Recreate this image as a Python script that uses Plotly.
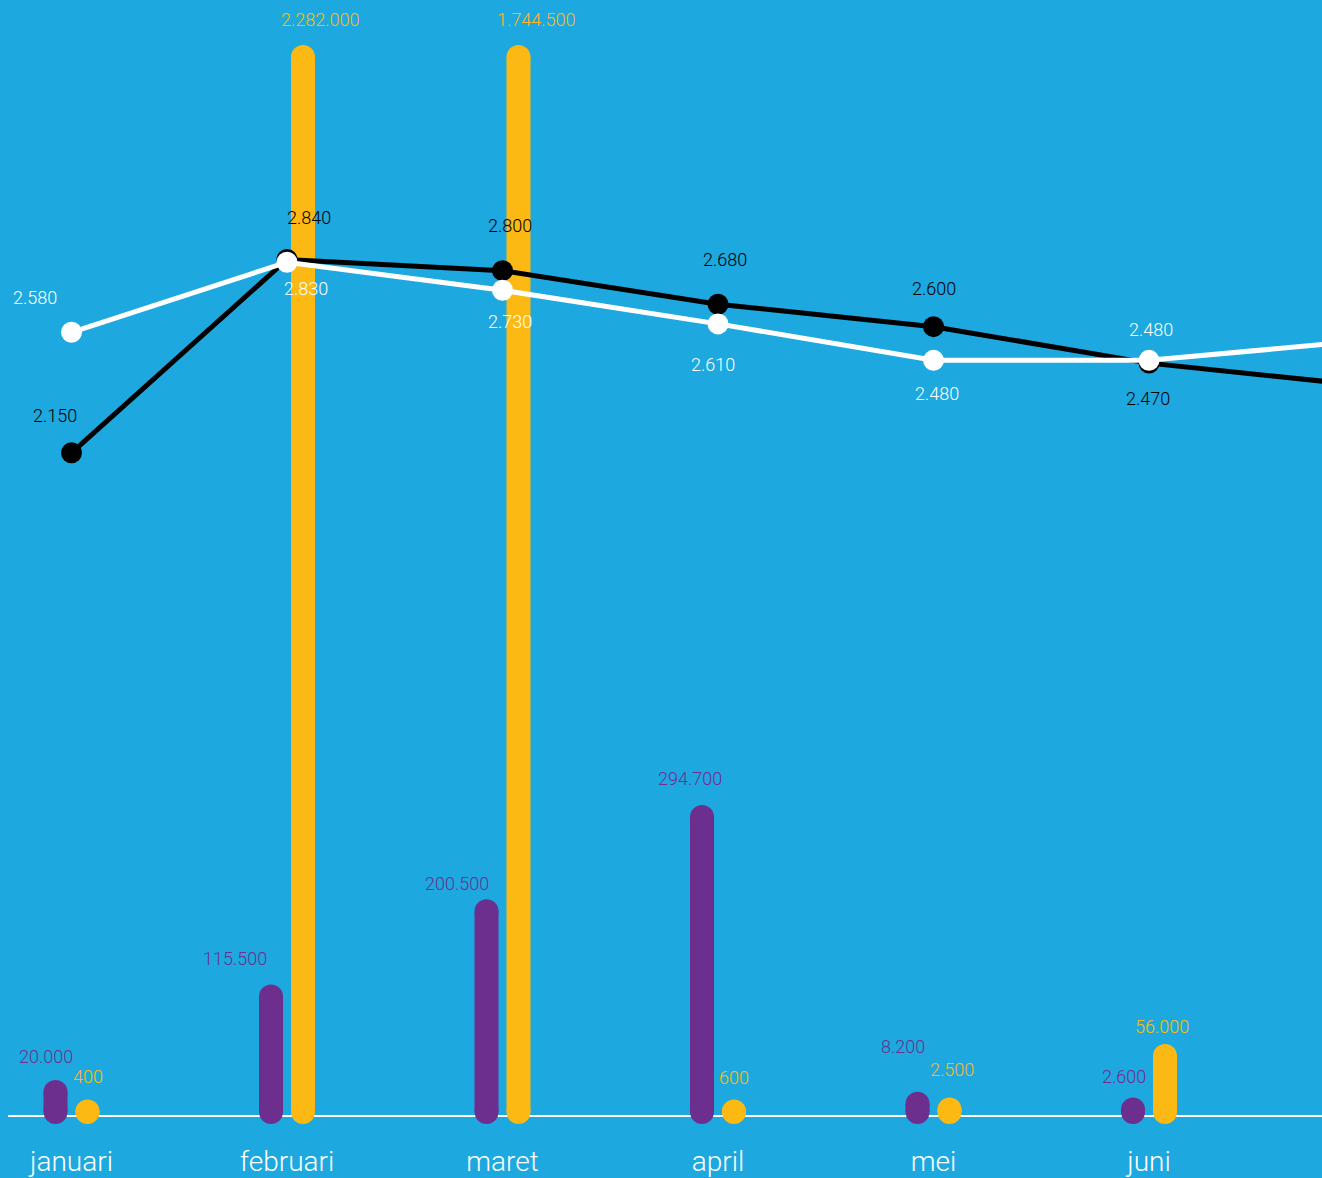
import plotly.graph_objects as go
import numpy as np

# ---------------- data ----------------
months = ["januari", "februari", "maret", "april", "mei", "juni", "juli"]
purple_values = [20000, 115500, 200500, 294700, 8200, 2600]
yellow_values = [400, 2282000, 1744500, 600, 2500, 56000]
black_values = [2150, 2840, 2800, 2680, 2600, 2470, 2390]
white_values = [2580, 2830, 2730, 2610, 2480, 2480, 2550]

# ---------------- style ----------------
BG = "#1da8e0"
PURPLE = "#6d2f8e"
YELLOW = "#fdb913"
BLACK = "#000000"
WHITE = "#ffffff"
FONT = "Helvetica Neue, Roboto, Liberation Sans, Arial, sans-serif"
BAR_CAP = 1_054_000          # visible top of the value axis (taller bars are cut)
BAR_OFFSET = 0.0742          # half distance between paired bars (category units)
BAR_W = 24

# label nudges in pixels (x, y-up)
purple_shift = [(-10, 35), (-36, 38), (-30, 28), (-12, 39), (-15, 57), (-9, 33)]
yellow_shift = [(0, 35), (17, 38), (18, 38), (0, 34), (2, 40), (-3, 29)]
black_shift = [(-17, 37), (22, 42), (7, 45), (7, 45), (0, 38), (-1, -35)]
white_shift = [(-37, 35), (19, -26), (7, -31), (-5, -41), (3, -33), (2, 31)]


def fmt(v):
    return f"{v:,}".replace(",", ".")


fig = go.Figure()


def bar_trace(values, offset, color):
    xs, ys = [], []
    for i, v in enumerate(values):
        top = min(v, BAR_CAP)
        xs += [i + offset, i + offset, None]
        ys += [0, top, None]
    return go.Scatter(
        x=xs, y=ys, mode="lines+markers", yaxis="y",
        line=dict(color=color, width=BAR_W),
        marker=dict(color=color, size=BAR_W, line=dict(width=0)),
        cliponaxis=False, hoverinfo="skip", showlegend=False,
    )


fig.add_trace(bar_trace(purple_values, -BAR_OFFSET, PURPLE))
fig.add_trace(bar_trace(yellow_values, BAR_OFFSET, YELLOW))

x_line = list(range(len(months)))
for vals, color in [(black_values, BLACK), (white_values, WHITE)]:
    fig.add_trace(go.Scatter(
        x=x_line, y=vals, mode="lines+markers", yaxis="y2",
        line=dict(color=color, width=5),
        marker=dict(color=color, size=21, line=dict(width=0)),
        cliponaxis=False, hoverinfo="skip", showlegend=False,
    ))

annotations = []
for vals, offset, color, shifts in [
    (purple_values, -BAR_OFFSET, PURPLE, purple_shift),
    (yellow_values, BAR_OFFSET, YELLOW, yellow_shift),
]:
    for i, v in enumerate(vals):
        annotations.append(dict(
            x=i + offset, y=min(v, BAR_CAP), xref="x", yref="y",
            text=fmt(v), showarrow=False,
            xshift=shifts[i][0], yshift=shifts[i][1],
            font=dict(family=FONT, size=18, color=color, weight=300),
        ))

for vals, color, shifts in [
    (black_values, BLACK, black_shift),
    (white_values, WHITE, white_shift),
]:
    for i in range(len(shifts)):
        annotations.append(dict(
            x=i, y=vals[i], xref="x", yref="y2",
            text=fmt(vals[i]), showarrow=False,
            xshift=shifts[i][0], yshift=shifts[i][1],
            font=dict(family=FONT, size=18, color=color, weight=300),
        ))

fig.update_layout(
    width=1322, height=1178, autosize=False,
    margin=dict(l=8, r=0, t=0, b=60, pad=0),
    paper_bgcolor=BG, plot_bgcolor=BG,
    showlegend=False,
    annotations=annotations,
    xaxis=dict(
        range=[-0.2947, 5.8027], tickvals=x_line, ticktext=months,
        showgrid=False, zeroline=False, showline=True, linecolor=WHITE,
        linewidth=2, ticks="", ticklabelstandoff=20, layer="below traces",
        tickfont=dict(family=FONT, size=28, color=WHITE, weight=300),
        fixedrange=True,
    ),
    yaxis=dict(
        range=[-3000, 1111000], visible=False, showgrid=False,
        zeroline=False, fixedrange=True,
    ),
    yaxis2=dict(
        range=[-212.9, 3765.7], overlaying="y", visible=False,
        showgrid=False, zeroline=False, fixedrange=True,
    ),
)

fig.write_html("out.html")
